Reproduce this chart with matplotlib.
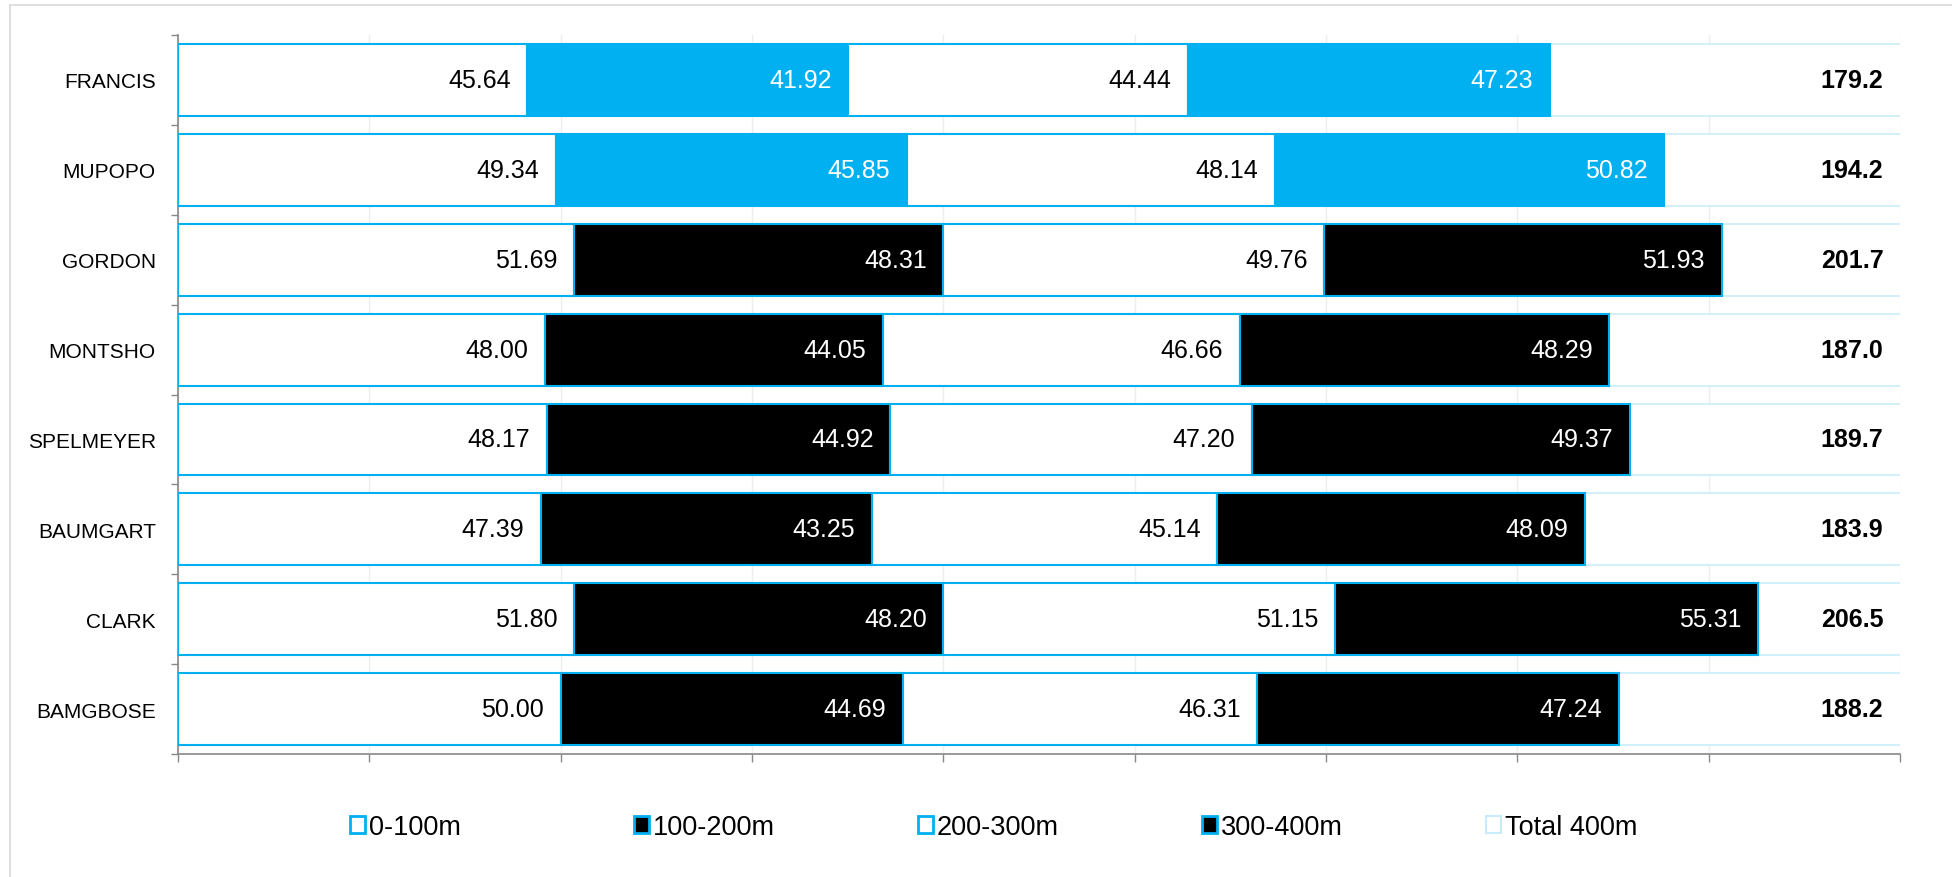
import matplotlib.pyplot as plt
import numpy as np
from matplotlib.patches import Patch
from matplotlib.lines import Line2D

plt.rcParams["font.family"] = ["Liberation Sans", "DejaVu Sans"]

# ---- data -------------------------------------------------------------
athletes = ["FRANCIS", "MUPOPO", "GORDON", "MONTSHO",
            "SPELMEYER", "BAUMGART", "CLARK", "BAMGBOSE"]
split_0_100   = [45.64, 49.34, 51.69, 48.00, 48.17, 47.39, 51.80, 50.00]
split_100_200 = [41.92, 45.85, 48.31, 44.05, 44.92, 43.25, 48.20, 44.69]
split_200_300 = [44.44, 48.14, 49.76, 46.66, 47.20, 45.14, 51.15, 46.31]
split_300_400 = [47.23, 50.82, 51.93, 48.29, 49.37, 48.09, 55.31, 47.24]
total_400     = [179.2, 194.2, 201.7, 187.0, 189.7, 183.9, 206.5, 188.2]
highlighted   = ["FRANCIS", "MUPOPO"]
series_names  = ["0-100m", "100-200m", "200-300m", "300-400m", "Total 400m"]

BLUE = "#00B0F0"
PALE = "#C9ECFA"
XMAX = 225

fig = plt.figure(figsize=(19.52, 8.78), dpi=100)
ax = fig.add_axes([0.0912, 0.140, 0.8822, 0.819])

y = np.arange(len(athletes))
dark = [BLUE if a in highlighted else "black" for a in athletes]
splits = [split_0_100, split_100_200, split_200_300, split_300_400]
fills = [["white"] * len(athletes), dark, ["white"] * len(athletes), dark]
txtc = ["black", "white", "black", "white"]

left = np.zeros(len(athletes))
for vals, fc, tc in zip(splits, fills, txtc):
    vals = np.array(vals)
    ax.barh(y, vals, left=left, height=0.8, color=fc, edgecolor=BLUE,
            linewidth=1.5, zorder=3)
    for yi, l, v in zip(y, left, vals):
        ax.annotate(f"{v:.2f}", (l + v, yi), xytext=(-12, 0),
                    textcoords="offset points", ha="right", va="center",
                    fontsize=18, color=tc, zorder=5)
    left = left + vals

# total bar, stacked on top and clipped by the axis maximum
ax.barh(y, total_400, left=left, height=0.8, color="white", edgecolor=PALE,
        linewidth=1.2, zorder=2)
for yi, t in zip(y, total_400):
    ax.annotate(f"{t:.1f}", (XMAX, yi), xytext=(-12, 0),
                textcoords="offset points", ha="right", va="center",
                fontsize=18, fontweight="bold", color="black", zorder=5)

ax.set_xlim(0, XMAX)
ax.set_ylim(len(athletes) - 0.5, -0.5)
ax.set_xticks(np.arange(0, XMAX + 1, 25))
ax.set_xticklabels([])
ax.tick_params(axis="x", length=6, width=1, color="#888888", direction="out")
ax.xaxis.grid(True, color="#EEEEEE", linewidth=1, zorder=0)

ax.set_yticks(np.arange(len(athletes) + 1) - 0.5)
ax.set_yticklabels([])
ax.tick_params(axis="y", which="major", length=5, width=1, color="#888888")
ax.set_yticks(y, minor=True)
ax.set_yticklabels(athletes, minor=True, fontsize=15)
ax.tick_params(axis="y", which="minor", length=0, pad=16)

for s in ["top", "right"]:
    ax.spines[s].set_visible(False)
for s in ["left", "bottom"]:
    ax.spines[s].set_color("#888888")
    ax.spines[s].set_linewidth(1.2)

# legend, entries evenly spaced like the original
handles = [Patch(facecolor="white", edgecolor=BLUE, linewidth=2),
           Patch(facecolor="black", edgecolor=BLUE, linewidth=2),
           Patch(facecolor="white", edgecolor=BLUE, linewidth=2),
           Patch(facecolor="black", edgecolor=BLUE, linewidth=2),
           Patch(facecolor="white", edgecolor=PALE, linewidth=1.5)]
for i, (h, name) in enumerate(zip(handles, series_names)):
    fig.legend([h], [name], loc="center left",
               bbox_to_anchor=((350 + i * 284) / 1952, 1 - 828 / 878),
               frameon=False, fontsize=19.5, handlelength=0.55,
               handleheight=0.55, handletextpad=0.15, borderpad=0,
               borderaxespad=0)

# outer chart border (only top and left edges are inside the image)
top_y = 1 - 6 / 878
left_x = 10 / 1952
fig.add_artist(Line2D([left_x, 1], [top_y, top_y], transform=fig.transFigure,
                      color="#D9D9D9", linewidth=1.2))
fig.add_artist(Line2D([left_x, left_x], [0, top_y], transform=fig.transFigure,
                      color="#D9D9D9", linewidth=1.2))

fig.savefig("out.png", dpi=100)
